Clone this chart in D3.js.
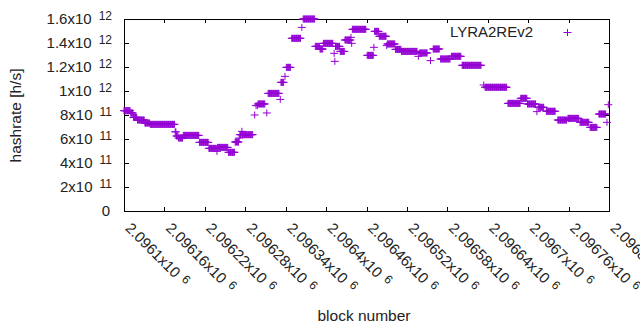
<!DOCTYPE html>
<html>
<head>
<meta charset="utf-8">
<script src="https://cdn.jsdelivr.net/npm/d3@7"></script>
<style>
  html, body { margin: 0; padding: 0; background: #fff; }
  svg { display: block; font-family: "Liberation Sans", Arial, sans-serif; }
</style>
</head>
<body>
<svg id="chart" width="640" height="330"></svg>
<script>
// ---- data ----
const seriesName = "LYRA2REv2";
const firstBlock = 2096100;
// runs of consecutive blocks (offset from firstBlock) sharing one hashrate value (x10^11 h/s)
const runStart = [0,10,14,20,31,39,76,78,81,88,112,126,138,139,155,165,171,172,175,176,194,196,198,199,212,214,232,233,239,241,249,264,266,284,291,296,312,313,314,321,328,337,338,339,361,371,372,379,390,391,403,412,437,439,455,459,470,486,502,534,536,570,589,599,613,615,627,644,659,677,692,705,717,719];
const runEnd   = [9,13,19,30,38,75,77,80,87,111,125,137,138,154,164,170,171,174,175,191,194,196,198,209,212,230,232,237,239,247,262,264,283,290,295,310,312,313,320,327,336,337,338,359,370,371,378,389,390,402,411,435,437,450,455,468,484,500,530,534,568,588,598,611,613,623,640,657,675,690,702,715,717,719];
const runValue = [8.36,8.17,7.80,7.58,7.33,7.22,6.60,6.25,6.08,6.30,5.72,5.22,4.97,5.30,4.89,5.75,6.08,6.36,6.64,6.36,8.00,8.78,8.78,8.92,8.17,9.80,9.30,10.72,11.22,11.97,14.39,15.30,16.00,13.72,13.50,13.97,13.14,12.47,13.72,13.30,14.25,14.47,13.97,15.14,12.97,13.64,14.97,14.56,13.78,13.92,13.47,13.30,12.89,13.17,12.53,13.50,12.67,12.89,12.14,10.50,10.31,8.97,9.39,8.92,8.28,8.64,8.31,7.58,7.72,7.39,6.97,8.08,7.39,8.86];
const xTickValues = [2096100,2096160,2096220,2096280,2096340,2096400,2096460,2096520,2096580,2096640,2096700,2096760,2096820];
const xTickMantissa = ["2.0961","2.09616","2.09622","2.09628","2.09634","2.0964","2.09646","2.09652","2.09658","2.09664","2.0967","2.09676","2.09682"];
const xTickExponent = ["6","6","6","6","6","6","6","6","6","6","6","6","6"];
const yTickValues = [0,2e11,4e11,6e11,8e11,1e12,1.2e12,1.4e12,1.6e12];
const yTickMantissa = ["0","2","4","6","8","1","1.2","1.4","1.6"];
const yTickExponent = ["","11","11","11","11","12","12","12","12"];

// expand runs into one point per block
const points = [];
runStart.forEach((s, i) => {
  for (let b = s; b <= runEnd[i]; b++) points.push({ block: firstBlock + b, value: runValue[i] * 1e11 });
});

// ---- chart ----
const W = 640, H = 330;
const plot = { left: 124, right: 609, top: 19, bottom: 211 };
const color = "#9400d3";
const svg = d3.select("#chart");

const x = d3.scaleLinear().domain([2096100, 2096820]).range([plot.left, plot.right]);
const y = d3.scaleLinear().domain([0, 1.6e12]).range([plot.bottom, plot.top]);

// left axis
const gl = svg.append("g").attr("transform", `translate(${plot.left},0)`)
  .call(d3.axisLeft(y).tickValues(yTickValues).tickSize(-5).tickPadding(12).tickFormat(""));
gl.select(".domain").remove();
gl.selectAll(".tick line").attr("stroke", "#000").attr("shape-rendering", "crispEdges");
gl.selectAll(".tick text").each(function(d, i) {
  const t = d3.select(this).attr("font-size", 15).attr("fill", "#222").attr("font-family", "Liberation Sans, Arial, sans-serif").attr("dy", "0.32em");
  t.text(null);
  if (yTickExponent[i] === "") {
    t.attr("x", -14).append("tspan").text(yTickMantissa[i]);
  } else {
    t.append("tspan").text(yTickMantissa[i] + "x10");
    t.append("tspan").attr("font-size", 12).attr("dx", 7).attr("dy", -4).text(yTickExponent[i]);
  }
});

// right ticks
const gr = svg.append("g").attr("transform", `translate(${plot.right},0)`)
  .call(d3.axisRight(y).tickValues(yTickValues).tickSize(-5).tickFormat(""));
gr.select(".domain").remove();
gr.selectAll(".tick line").attr("stroke", "#000").attr("shape-rendering", "crispEdges");

// top ticks
const gt = svg.append("g").attr("transform", `translate(0,${plot.top})`)
  .call(d3.axisTop(x).tickValues(xTickValues).tickSize(-4).tickFormat(""));
gt.select(".domain").remove();
gt.selectAll(".tick line").attr("stroke", "#000").attr("shape-rendering", "crispEdges");

// bottom axis
const gb = svg.append("g").attr("transform", `translate(0,${plot.bottom})`)
  .call(d3.axisBottom(x).tickValues(xTickValues).tickSize(-4).tickFormat(""));
gb.select(".domain").remove();
gb.selectAll(".tick line").attr("stroke", "#000").attr("shape-rendering", "crispEdges");
gb.selectAll(".tick text").each(function(d, i) {
  const t = d3.select(this).text(null)
    .attr("x", 0).attr("y", 0).attr("dy", 0)
    .attr("transform", "translate(0,18) rotate(45)")
    .attr("text-anchor", "start")
    .attr("font-size", 15).attr("fill", "#222").attr("font-family", "Liberation Sans, Arial, sans-serif");
  t.append("tspan").text(xTickMantissa[i] + "x10");
  t.append("tspan").attr("font-size", 12).attr("dx", 6).attr("dy", -4).text(xTickExponent[i]);
});

// border
svg.append("rect")
  .attr("x", plot.left).attr("y", plot.top)
  .attr("width", plot.right - plot.left).attr("height", plot.bottom - plot.top)
  .attr("fill", "none").attr("stroke", "#000").attr("stroke-width", 1)
  .attr("shape-rendering", "crispEdges");

// points
const plus = "M-4,0H4M0,-3.5V3.5";
svg.append("g").selectAll("path").data(points).join("path")
  .attr("transform", d => `translate(${x(d.block)},${y(d.value)})`)
  .attr("d", plus)
  .attr("stroke", color).attr("stroke-width", 1).attr("fill", "none");

// legend
svg.append("text").attr("x", 533).attr("y", 37).attr("text-anchor", "end")
  .attr("font-size", 15).attr("fill", "#222").text(seriesName);
svg.append("path").attr("transform", "translate(567.5,32.5)").attr("d", plus)
  .attr("stroke", color).attr("stroke-width", 1).attr("fill", "none");

// axis titles
svg.append("text").attr("transform", "translate(21,115.5) rotate(-90)")
  .attr("text-anchor", "middle").attr("font-size", 15.5).attr("fill", "#222").text("hashrate [h/s]");
svg.append("text").attr("x", 364).attr("y", 321)
  .attr("text-anchor", "middle").attr("font-size", 15.5).attr("fill", "#222").text("block number");
</script>
</body>
</html>
